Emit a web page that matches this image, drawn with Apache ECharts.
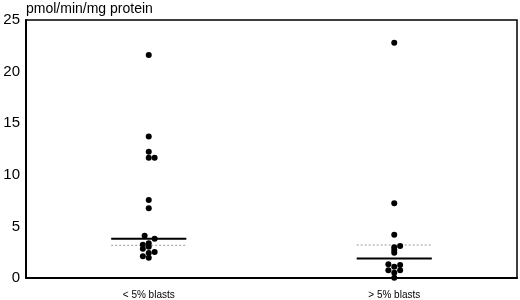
<!DOCTYPE html>
<html><head><meta charset="utf-8">
<script src="https://cdn.jsdelivr.net/npm/echarts@6/dist/echarts.min.js"></script>
<style>html,body{margin:0;padding:0;background:#fff}#c{width:520px;height:300px}</style>
</head><body><div id="c"></div>
<script>
const categories = ['< 5% blasts', '> 5% blasts'];
const yTicks = [0, 5, 10, 15, 20, 25];
const lowBlasts = [21.6, 13.7, 12.24, 11.66, 11.66, 7.56, 6.75, 4.1, 3.81, 3.36, 3.23, 3.04, 2.84, 2.52, 2.42, 2.1, 1.97];
const lowJitter = [0, 0, 0, 0, 1, 0, 0, -0.7, 1, 0, -1, 0, -1, 1, 0, -1, 0];
const highBlasts = [22.8, 7.24, 4.2, 3.1, 2.97, 2.71, 2.45, 1.33, 1.1, 1.26, 0.75, 0.52, 0.75, 0.03];
const highJitter = [0, 0, 0, 1, 0, 0, 0, -1, 0, 1, -1, 0, 1, 0];
const medians = [3.81, 1.9];
const means = [3.17, 3.2];

const jw = 0.024, hw = 0.153;
function pts(vals, jit, ci) { return vals.map((v, i) => [ci + 0.5 + jit[i] * jw, v]); }
function seg(v, ci) { return [[ci + 0.5 - hw, v], [ci + 0.5 + hw, v]]; }

const font = 'Liberation Sans, Arial, Helvetica, sans-serif';
const chart = echarts.init(document.getElementById('c'), null, {renderer: 'canvas'});
const series = [];
[[lowBlasts, lowJitter], [highBlasts, highJitter]].forEach(([vals, jit], ci) => {
  series.push({type: 'scatter', xAxisIndex: 1, data: pts(vals, jit, ci), symbolSize: 6,
    itemStyle: {color: '#000', opacity: 1}, silent: true, z: 5});
  series.push({type: 'line', xAxisIndex: 1, data: seg(means[ci], ci), symbol: 'none',
    lineStyle: {color: '#999', width: 1, type: [2, 2]}, silent: true, z: 3});
  series.push({type: 'line', xAxisIndex: 1, data: seg(medians[ci], ci), symbol: 'none',
    lineStyle: {color: '#000', width: 2}, silent: true, z: 4});
});
chart.setOption({
  animation: false,
  grid: {left: 26, right: 3, top: 20, bottom: 22, show: true, borderColor: '#000', borderWidth: 1.5, backgroundColor: 'transparent'},
  xAxis: [
    {type: 'category', data: categories, position: 'bottom',
     axisLine: {lineStyle: {color: '#000', width: 2}}, axisTick: {show: false},
     axisLabel: {color: '#000', fontSize: 10, fontFamily: font, margin: 12}},
    {type: 'value', min: 0, max: 2, show: false}
  ],
  yAxis: {type: 'value', min: yTicks[0], max: yTicks[yTicks.length - 1], interval: 5,
    name: 'pmol/min/mg protein', nameLocation: 'end', nameGap: 4,
    nameTextStyle: {color: '#000', fontSize: 14, fontFamily: font, align: 'left', padding: [0, 0, 0, 0]},
    axisLine: {show: true, lineStyle: {color: '#000', width: 2}}, axisTick: {show: false},
    splitLine: {show: false},
    axisLabel: {color: '#000', fontSize: 15, fontFamily: font, margin: 6}},
  series: series
});
</script></body></html>
